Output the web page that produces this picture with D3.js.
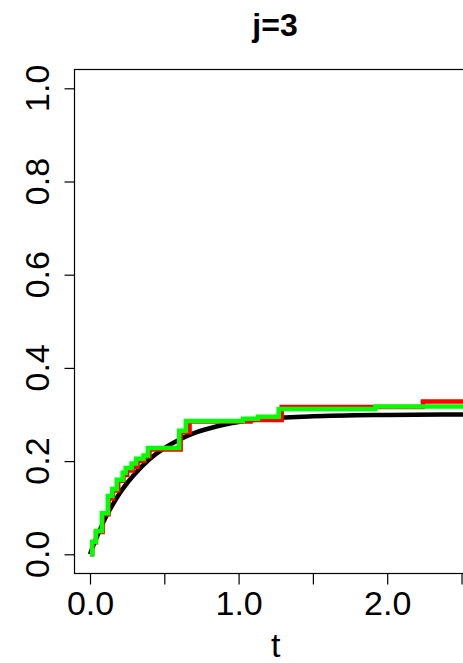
<!DOCTYPE html>
<html>
<head>
<meta charset="utf-8">
<script src="https://cdn.jsdelivr.net/npm/d3@7/dist/d3.min.js"></script>
<style>
  html, body { margin: 0; padding: 0; background: #fff; }
  svg { display: block; }
  text { font-family: "Liberation Sans", Arial, sans-serif; fill: #000; }
</style>
</head>
<body>
<svg id="chart" width="463" height="663"></svg>
<script>
// Theoretical cumulative incidence (smooth curve)
const trueT = [0, 0.025, 0.05, 0.1, 0.15, 0.2, 0.25, 0.3, 0.4, 0.5, 0.6, 0.7, 0.8, 0.9, 1.0, 1.2, 1.5, 2.0, 2.5, 2.8];
const trueV = [0, 0.021, 0.040, 0.076, 0.105, 0.131, 0.153, 0.172, 0.204, 0.228, 0.246, 0.260, 0.270, 0.278, 0.284, 0.291, 0.296, 0.299, 0.300, 0.300];

// Estimator A (red step function)
const estAT = [0, 0.015, 0.04, 0.085, 0.125, 0.155, 0.19, 0.225, 0.25, 0.29, 0.32, 0.365, 0.40, 0.61, 0.67, 1.08, 1.29, 2.24, 2.8];
const estAV = [0, 0.026, 0.048, 0.086, 0.120, 0.137, 0.158, 0.170, 0.180, 0.188, 0.200, 0.210, 0.225, 0.262, 0.285, 0.288, 0.316, 0.328, 0.328];

// Estimator B (green step function)
const estBT = [0, 0.015, 0.04, 0.08, 0.12, 0.15, 0.18, 0.22, 0.24, 0.28, 0.31, 0.36, 0.39, 0.60, 0.645, 1.03, 1.13, 1.27, 1.92, 2.8];
const estBV = [0, 0.027, 0.050, 0.088, 0.125, 0.140, 0.160, 0.175, 0.185, 0.195, 0.205, 0.212, 0.228, 0.265, 0.286, 0.291, 0.295, 0.312, 0.317, 0.317];

const xTicks = [0, 0.5, 1.0, 1.5, 2.0, 2.5];
const xTickLabels = ["0.0", "", "1.0", "", "2.0", ""];
const yTicks = [0, 0.2, 0.4, 0.6, 0.8, 1.0];
const yTickLabels = ["0.0", "0.2", "0.4", "0.6", "0.8", "1.0"];
const titleText = "j=3";
const xTitle = "t";

const svg = d3.select("#chart");

// plot box
const box = { left: 74, top: 69, right: 476, bottom: 573 };

const x = d3.scaleLinear().domain([0, 1]).range([90, 238.6]);
const y = d3.scaleLinear().domain([0, 1]).range([554.3, 88.3]);

svg.append("defs").append("clipPath").attr("id", "plotclip")
  .append("rect")
  .attr("x", box.left).attr("y", box.top)
  .attr("width", box.right - box.left).attr("height", box.bottom - box.top);

const plot = svg.append("g").attr("clip-path", "url(#plotclip)");

const smooth = d3.line().x(d => x(d[0])).y(d => y(d[1])).curve(d3.curveMonotoneX);
const step = d3.line().x(d => x(d[0])).y(d => y(d[1])).curve(d3.curveStepAfter);

plot.append("path")
  .datum(d3.zip(trueT, trueV))
  .attr("d", smooth)
  .attr("fill", "none").attr("stroke", "#000").attr("stroke-width", 4.5);

plot.append("path")
  .datum(d3.zip(estAT, estAV))
  .attr("d", step)
  .attr("fill", "none").attr("stroke", "#ff0000").attr("stroke-width", 4.5)
  .attr("stroke-linejoin", "miter").attr("stroke-linecap", "butt");

plot.append("path")
  .datum(d3.zip(estBT, estBV))
  .attr("d", step)
  .attr("fill", "none").attr("stroke", "#00ff00").attr("stroke-width", 4.5)
  .attr("stroke-linejoin", "miter").attr("stroke-linecap", "butt");

// frame
svg.append("rect")
  .attr("x", box.left + 0.5).attr("y", box.top + 0.5)
  .attr("width", box.right - box.left).attr("height", box.bottom - box.top)
  .attr("fill", "none").attr("stroke", "#000").attr("stroke-width", 1.2);

// x axis
const xAxis = d3.axisBottom(x)
  .tickValues(xTicks)
  .tickFormat((d, i) => xTickLabels[i])
  .tickSize(11).tickPadding(6);
const gx = svg.append("g").attr("transform", `translate(0,${box.bottom + 0.5})`).call(xAxis);
gx.select(".domain").remove();
gx.selectAll("line").attr("stroke", "#000").attr("stroke-width", 1.2);
gx.selectAll("text").attr("font-size", 34).attr("dy", "0.71em")
  .style("font-family", "'Liberation Sans', Arial, sans-serif");

// y axis
const yAxis = d3.axisLeft(y)
  .tickValues(yTicks)
  .tickFormat((d, i) => yTickLabels[i])
  .tickSize(10);
const gy = svg.append("g").attr("transform", `translate(${box.left + 0.5},0)`).call(yAxis);
gy.select(".domain").remove();
gy.selectAll("line").attr("stroke", "#000").attr("stroke-width", 1.2);
gy.selectAll("text")
  .attr("font-size", 34)
  .attr("text-anchor", "middle")
  .attr("x", null).attr("dy", null)
  .attr("transform", d => `translate(${48 - box.left},${y(d)}) rotate(-90)`)
  .attr("y", 0)
  .style("font-family", "'Liberation Sans', Arial, sans-serif");
gy.selectAll(".tick").attr("transform", "translate(0,0)");
gy.selectAll(".tick line").attr("transform", d => `translate(0,${y(d) + 0.5})`);

// titles
svg.append("text")
  .attr("x", 275).attr("y", 36)
  .attr("text-anchor", "middle")
  .attr("font-size", 32).attr("font-weight", "bold")
  .text(titleText);

svg.append("text")
  .attr("x", x(1.25)).attr("y", 657)
  .attr("text-anchor", "middle")
  .attr("font-size", 34)
  .text(xTitle);
</script>
</body>
</html>
